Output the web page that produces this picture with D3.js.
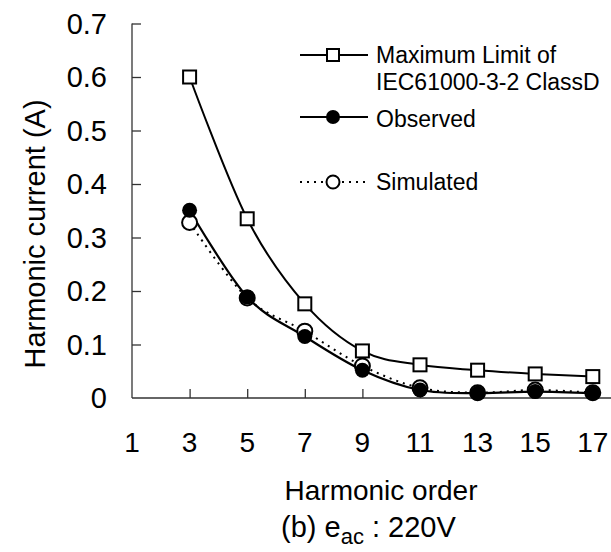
<!DOCTYPE html>
<html>
<head>
<meta charset="utf-8">
<script src="https://cdn.jsdelivr.net/npm/d3@7"></script>
<style>
  body { margin: 0; background: #fff; }
  svg { display: block; font-family: "Liberation Sans", Arial, sans-serif; }
</style>
</head>
<body>
<div id="chart"></div>
<script>
// harmonic orders and currents (A)
const orders = [3, 5, 7, 9, 11, 13, 15, 17];
const maxLimit = [0.6, 0.335, 0.176, 0.088, 0.062, 0.052, 0.045, 0.04];
const observed = [0.351, 0.189, 0.115, 0.052, 0.015, 0.009, 0.012, 0.009];
const simulated = [0.328, 0.187, 0.125, 0.06, 0.019, 0.01, 0.015, 0.01];
const xTicks = [1, 3, 5, 7, 9, 11, 13, 15, 17];
const yTicks = [0, 0.1, 0.2, 0.3, 0.4, 0.5, 0.6, 0.7];

const width = 611;
const height = 552;

const xScale = d3.scaleLinear().domain([1, 18]).range([132, 621.6]);
const yScale = d3.scaleLinear().domain([0, 0.7]).range([398, 23.5]);

const svg = d3
  .select("#chart")
  .append("svg")
  .attr("width", width)
  .attr("height", height);

// axes: ticks point inward, labels placed by hand
const xAxis = svg
  .append("g")
  .attr("transform", `translate(0,${yScale(0)})`)
  .call(d3.axisTop(xScale).tickValues(xTicks.slice(1)).tickSize(9).tickFormat(""));
xAxis.select(".domain").attr("d", `M${xScale(1)},0H${width}`);

const yAxis = svg
  .append("g")
  .attr("transform", `translate(${xScale(1)},0)`)
  .call(d3.axisRight(yScale).tickValues(yTicks.slice(1)).tickSize(9).tickFormat(""));
yAxis.select(".domain").attr("d", `M0,${yScale(0.7)}V${yScale(0)}`);

svg.selectAll(".domain, .tick line").attr("stroke", "#333").attr("stroke-width", 1.3);

svg
  .append("g")
  .selectAll("text")
  .data(yTicks)
  .join("text")
  .attr("x", 107)
  .attr("y", (d) => yScale(d))
  .attr("dy", "0.36em")
  .attr("text-anchor", "end")
  .attr("font-size", 29)
  .text((d) => (d === 0 ? "0" : d.toFixed(1)));

svg
  .append("g")
  .selectAll("text")
  .data(xTicks)
  .join("text")
  .attr("x", (d) => xScale(d))
  .attr("y", 452)
  .attr("text-anchor", "middle")
  .attr("font-size", 28)
  .text((d) => d);

svg
  .append("text")
  .attr("transform", "translate(45,234) rotate(-90)")
  .attr("text-anchor", "middle")
  .attr("font-size", 29)
  .text("Harmonic current (A)");

svg
  .append("text")
  .attr("x", 381)
  .attr("y", 500)
  .attr("text-anchor", "middle")
  .attr("font-size", 28)
  .text("Harmonic order");

const caption = svg
  .append("text")
  .attr("x", 281)
  .attr("y", 537)
  .attr("font-size", 29);
caption.append("tspan").text("(b) e");
caption.append("tspan").attr("font-size", 22).attr("dy", 7).text("ac");
caption.append("tspan").attr("dy", -7).text(" : 220V");

// series
const line = (values) =>
  d3
    .line()
    .x((_, i) => xScale(orders[i]))
    .y((d) => yScale(d))
    .curve(d3.curveCardinal.tension(0))(values);

svg
  .append("path")
  .attr("d", line(maxLimit))
  .attr("fill", "none")
  .attr("stroke", "#000")
  .attr("stroke-width", 2);

svg
  .append("path")
  .attr("d", line(simulated))
  .attr("fill", "none")
  .attr("stroke", "#000")
  .attr("stroke-width", 2)
  .attr("stroke-dasharray", "2,5");

svg
  .append("path")
  .attr("d", line(observed))
  .attr("fill", "none")
  .attr("stroke", "#000")
  .attr("stroke-width", 2.2);

svg
  .append("g")
  .selectAll("rect")
  .data(maxLimit)
  .join("rect")
  .attr("x", (_, i) => xScale(orders[i]) - 6.5)
  .attr("y", (d) => yScale(d) - 6.5)
  .attr("width", 13)
  .attr("height", 13)
  .attr("fill", "#fff")
  .attr("stroke", "#000")
  .attr("stroke-width", 2);

svg
  .append("g")
  .selectAll("circle")
  .data(simulated)
  .join("circle")
  .attr("cx", (_, i) => xScale(orders[i]))
  .attr("cy", (d) => yScale(d))
  .attr("r", 7.5)
  .attr("fill", "#fff")
  .attr("stroke", "#000")
  .attr("stroke-width", 2);

svg
  .append("g")
  .selectAll("circle")
  .data(observed)
  .join("circle")
  .attr("cx", (_, i) => xScale(orders[i]))
  .attr("cy", (d) => yScale(d))
  .attr("r", 7.5)
  .attr("fill", "#000");

// legend
const legend = svg.append("g").attr("font-size", 23);

legend.append("line").attr("x1", 300).attr("x2", 368).attr("y1", 55).attr("y2", 55)
  .attr("stroke", "#000").attr("stroke-width", 2);
legend.append("rect").attr("x", 327).attr("y", 49).attr("width", 12).attr("height", 12)
  .attr("fill", "#fff").attr("stroke", "#000").attr("stroke-width", 2);
legend.append("text").attr("x", 376).attr("y", 63).text("Maximum Limit of");
legend.append("text").attr("x", 376).attr("y", 90).text("IEC61000-3-2 ClassD");

legend.append("line").attr("x1", 300).attr("x2", 368).attr("y1", 117).attr("y2", 117)
  .attr("stroke", "#000").attr("stroke-width", 2);
legend.append("circle").attr("cx", 333).attr("cy", 117).attr("r", 7).attr("fill", "#000");
legend.append("text").attr("x", 376).attr("y", 127).text("Observed");

legend.append("line").attr("x1", 300).attr("x2", 368).attr("y1", 182).attr("y2", 182)
  .attr("stroke", "#000").attr("stroke-width", 2).attr("stroke-dasharray", "2,5");
legend.append("circle").attr("cx", 333).attr("cy", 182).attr("r", 6.5)
  .attr("fill", "#fff").attr("stroke", "#000").attr("stroke-width", 2);
legend.append("text").attr("x", 376).attr("y", 190).text("Simulated");
</script>
</body>
</html>
